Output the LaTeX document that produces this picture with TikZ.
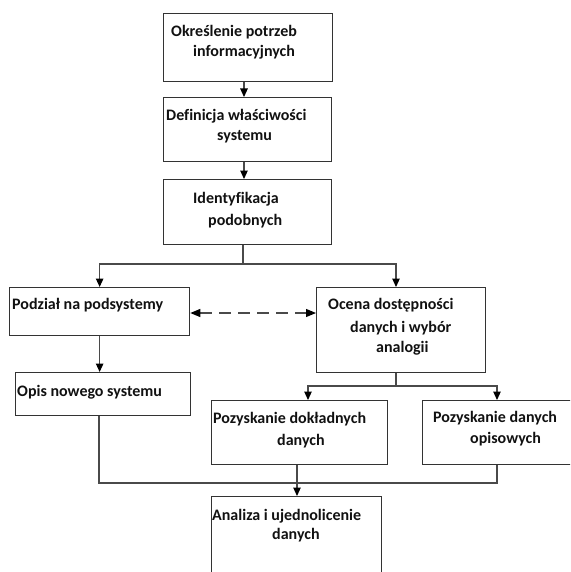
\documentclass[tikz,border=0pt]{standalone}
\usepackage{fontspec}
\setmainfont{Carlito}[Ligatures=NoCommon]
\usetikzlibrary{arrows.meta}
\definecolor{boxc}{HTML}{333333}
\definecolor{linec}{HTML}{4A4A4A}
\definecolor{txtc}{HTML}{111111}
\begin{document}
\begin{tikzpicture}[x=1pt,y=-1pt,
  box/.style={draw=boxc,line width=1.3pt,inner sep=0pt,anchor=north west},
  txt/.style={anchor=west,inner sep=0pt,text=txtc,font=\fontsize{16}{19}\selectfont\bfseries},
  conn/.style={draw=linec,line width=1.1pt},
  arr/.style={conn,-{Triangle[length=8.5pt,width=7.5pt,color=black]}},
  dasharr/.style={conn,dash pattern=on 12pt off 7pt,{Triangle[length=10pt,width=8pt,color=black]}-{Triangle[length=10pt,width=8pt,color=black]}}]
\useasboundingbox (0,0) rectangle (570,572);
\clip (0,0) rectangle (570,572);
% boxes
\node[box,minimum width=169pt,minimum height=68pt] (b1) at (163,13) {};
\node[box,minimum width=168pt,minimum height=64pt] (b2) at (163,97) {};
\node[box,minimum width=168pt,minimum height=65pt] (b3) at (163,179) {};
\node[box,minimum width=180pt,minimum height=48pt] (b4) at (9,287) {};
\node[box,minimum width=169pt,minimum height=85pt] (b5) at (316,287) {};
\node[box,minimum width=175pt,minimum height=43pt] (b6) at (15,372) {};
\node[box,minimum width=176pt,minimum height=64pt] (b7) at (211,400) {};
\node[box,minimum width=190pt,minimum height=64pt] (b8) at (422,400) {};
\node[box,minimum width=170pt,minimum height=100pt] (b9) at (211,496) {};
% texts
\node[txt] (t1a) at (171,32) {Określenie potrzeb};
\node[txt] (t1b) at (193,52) {informacyjnych};
\node[txt] (t2a) at (166,116) {Definicja właściwości};
\node[txt] (t2b) at (217,137) {systemu};
\node[txt] (t3a) at (193,199) {Identyfikacja};
\node[txt] (t3b) at (208,221) {podobnych};
\node[txt] (t4a) at (12,305) {Podział na podsystemy};
\node[txt] (t5a) at (328,305) {Ocena dostępności};
\node[txt] (t5b) at (350,328) {danych i wybór};
\node[txt] (t5c) at (376,348) {analogii};
\node[txt] (t6a) at (17,392) {Opis nowego systemu};
\node[txt] (t7a) at (213,419) {Pozyskanie dokładnych};
\node[txt] (t7b) at (277,441) {danych};
\node[txt] (t8a) at (433,418) {Pozyskanie danych};
\node[txt] (t8b) at (470,439) {opisowych};
\node[txt] (t9a) at (212,516) {Analiza i ujednolicenie};
\node[txt] (t9b) at (272,535) {danych};
% helper coordinates
\coordinate (c1) at (244,0);
\coordinate (j1) at (243,264);
\coordinate (cR) at (396,0);
\coordinate (cD) at (0,313);
\coordinate (j2) at (396,386);
\coordinate (cL7) at (308,0);
\coordinate (cL8) at (497,0);
\coordinate (j3) at (99,483);
\coordinate (c9) at (297,0);
% connectors
\draw[arr] (b1.south -| c1) -- (b2.north -| c1);
\draw[arr] (b2.south -| c1) -- (b3.north -| c1);
\draw[conn] (b3.south -| j1) -- (j1);
\draw[arr] (j1) -| (b4.north);
\draw[arr] (j1) -| (b5.north -| cR);
\draw[dasharr] (b4.east |- cD) -- (b5.west |- cD);
\draw[arr] (b4.south) -- (b6.north -| b4.south);
\draw[conn] (b5.south -| j2) -- (j2);
\draw[arr] (j2) -| (b7.north -| cL7);
\draw[arr] (j2) -| (b8.north -| cL8);
\draw[conn] (b6.south -| j3) -- (j3) -| (b8.south -| cL8);
\draw[arr] (b7.south -| c9) -- (b9.north -| c9);
\end{tikzpicture}
\end{document}
